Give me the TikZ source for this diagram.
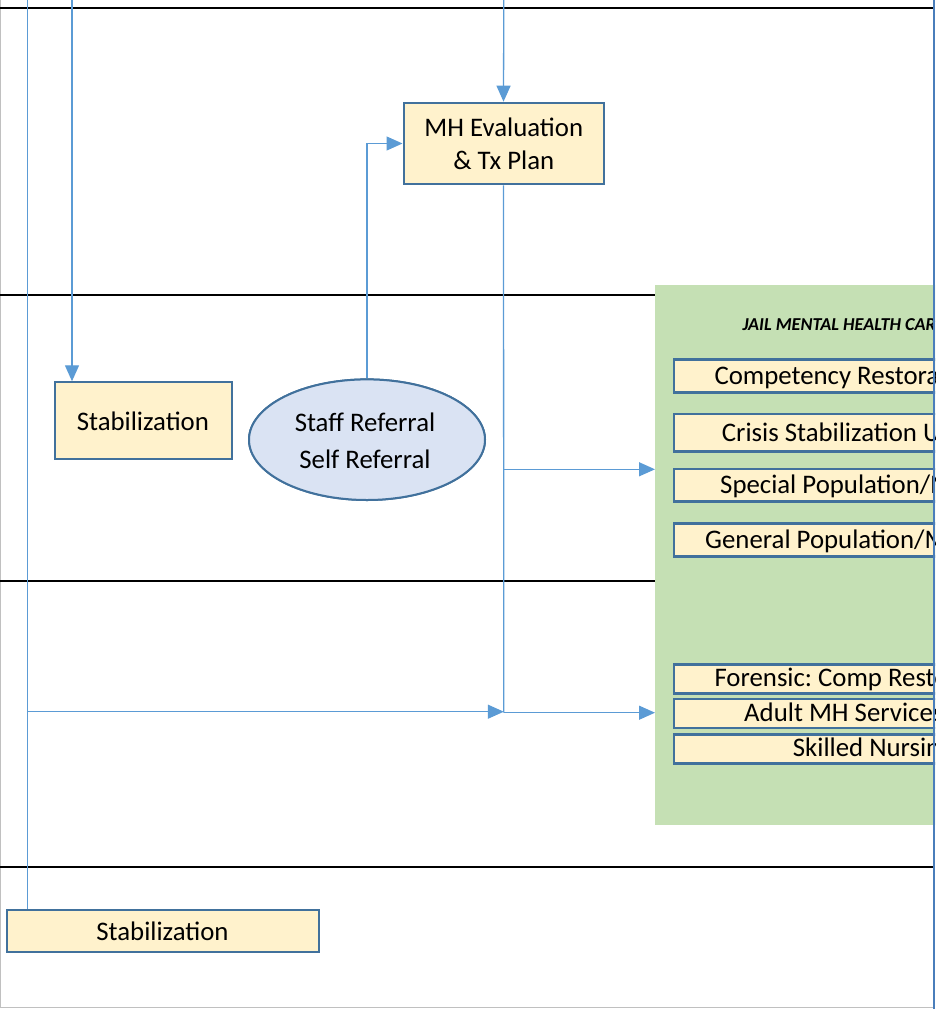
\documentclass[tikz,border=0pt]{standalone}
\usepackage{fontspec}
\setmainfont{Carlito}
\usetikzlibrary{arrows.meta,shapes.geometric}
\frenchspacing
\definecolor{boxfill}{HTML}{FFF2CC}
\definecolor{boxedge}{HTML}{41719C}
\definecolor{ellfill}{HTML}{DAE3F3}
\definecolor{jailgreen}{HTML}{C5E0B4}
\definecolor{connblue}{HTML}{5B9BD5}
\definecolor{rightblue}{HTML}{4A7EBB}
\definecolor{framegray}{HTML}{C0C0C0}
\begin{document}
\begin{tikzpicture}[x=1pt,y=-1pt,
  lane/.style={line width=2pt,black},
  conn/.style={draw=connblue,line width=1.3pt},
  arr/.style={conn,-{Triangle[length=16pt,width=14pt]}},
  ybox/.style={draw=boxedge,fill=boxfill,line width=2pt,rectangle,inner sep=0pt},
  ibox/.style={ybox,line width=2.5pt,anchor=north west,minimum width=330pt},
  ellbox/.style={draw=boxedge,fill=ellfill,line width=2pt,ellipse,inner sep=0pt},
  txt/.style={inner sep=0pt,anchor=base,font=\fontsize{26.8}{32.6}\selectfont},
  itxt/.style={txt,anchor=base west},
  ttl/.style={inner sep=0pt,anchor=base west,font=\fontsize{18.2}{22}\selectfont\bfseries\itshape},
]
\useasboundingbox (0,0) rectangle (935,1009);
\clip (0,0) rectangle (935,1009);
% frame
\draw[framegray,line width=1pt] (0.5,0) -- (0.5,1007.5) -- (935,1007.5);
% swimlane separators
\foreach \yy in {8.3,295,580.7,866.7} \draw[lane] (0,\yy) -- (933,\yy);

% shapes
\node[ybox,minimum width=200pt,minimum height=81.6pt] (mh) at (503.5,143.5) {};
\node[ybox,minimum width=177pt,minimum height=77pt] (stab1) at (143.6,420.8) {};
\node[ybox,minimum width=312pt,minimum height=41.7pt] (stab2) at (163.3,930.85) {};
\node[ellbox,minimum width=236pt,minimum height=120.6pt] (ell) at (367,439.7) {};
\node[fill=jailgreen,anchor=north west,minimum width=400pt,minimum height=540pt,inner sep=0pt] (jail) at (655,285) {};

% connectors
\coordinate (srcA) at (27.3,0);
\coordinate (srcB) at (72,0);
\coordinate (srcC) at (503.8,0);
\coordinate (split1) at (503.8,469.3);
\coordinate (split2) at (503.8,712.7);
\coordinate (joinA) at (27.3,711.7);
\draw[conn] (srcA) -- (srcA |- stab2.north);
\draw[arr] (srcB) -- (srcB |- stab1.north);
\draw[arr] (srcC) -- (mh.north);
\draw[arr] (ell.north) |- (mh.west);
\draw[conn] (mh.south) -- (split2);
\draw[arr] (split1) -- (split1 -| jail.west);
\draw[arr] (split2) -- (split2 -| jail.west);
\draw[arr] (joinA) -- (joinA -| split2);

% redraw shapes over connectors
\node[ybox,minimum width=200pt,minimum height=81.6pt] at (mh.center) {};
\node[ybox,minimum width=177pt,minimum height=77pt] at (stab1.center) {};
\node[ybox,minimum width=312pt,minimum height=41.7pt] at (stab2.center) {};
\node[ellbox,minimum width=236pt,minimum height=120.6pt] at (ell.center) {};

% inner boxes of the jail area
\node[ibox,minimum height=32.7pt] (comp) at (672.7,358.3) {};
\node[ibox,minimum height=37.3pt] (csu) at (672.7,412.7) {};
\node[ibox,minimum height=32.3pt] (spec) at (672.7,467.7) {};
\node[ibox,minimum height=32.7pt] (gen) at (672.7,522.3) {};
\node[ibox,minimum height=29pt] (foren) at (672.7,663.3) {};
\node[ibox,minimum height=29pt] (adult) at (672.7,697.7) {};
\node[ibox,minimum height=28.7pt] (snf) at (672.7,733.3) {};

% texts
\node[txt] at (503.8,136.7) {\begin{tabular}[t]{@{}c@{}}MH Evaluation\\\& Tx Plan\end{tabular}};
\node[txt] at (142.9,430.7) {Stabilization};
\node[txt] at (162.5,940.7) {Stabilization};
\node[txt,font=\fontsize{26.8}{36.6}\selectfont] at (365,431.7) {\begin{tabular}[t]{@{}c@{}}Staff Referral\\Self Referral\end{tabular}};
\node[ttl] at (742.3,330) {JAIL MENTAL HEALTH CARE};
\node[itxt] at (714.3,384) {Competency Restoration};
\node[itxt] at (721.7,441.7) {Crisis Stabilization Unit};
\node[itxt] at (720,493.3) {Special Population/MH};
\node[itxt] at (705,548) {General Population/MH};
\node[itxt] at (714.3,686.7) {Forensic: Comp Restoration};
\node[itxt] at (744,721) {Adult MH Services};
\node[itxt] at (792.7,756.7) {Skilled Nursing};

% right frame
\draw[rightblue,line width=1.8pt] (934,0) -- (934,1009);
\end{tikzpicture}
\end{document}
